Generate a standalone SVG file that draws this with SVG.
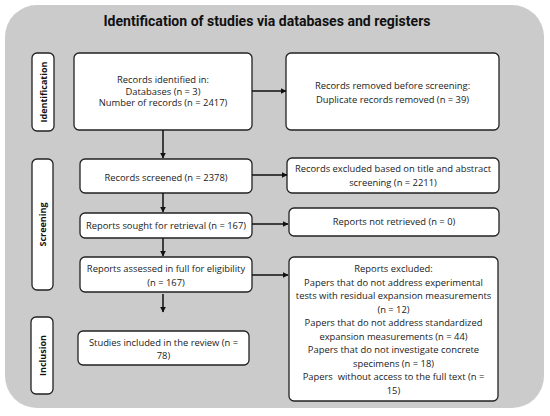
<svg xmlns="http://www.w3.org/2000/svg" width="550" height="416" viewBox="0 0 550 416">
<style>
.bg{fill:#cbcbcb}
.box{fill:#ffffff;stroke:#222222;stroke-width:1.3}
.t{font-family:"Open Sans","Liberation Sans",sans-serif;font-size:9.4px;fill:#222222;text-anchor:middle}
.lbl{font-family:"Open Sans","Liberation Sans",sans-serif;font-size:9px;font-weight:bold;fill:#111111;text-anchor:middle}
.title{font-family:"Roboto","Liberation Sans",sans-serif;font-size:15px;font-weight:bold;fill:#111111;text-anchor:middle}
.c{stroke:#111111;stroke-width:1.5;fill:none;marker-end:url(#ah)}
</style>
<defs>
<marker id="ah" viewBox="0 0 10 10" refX="9" refY="5" markerWidth="6" markerHeight="6" markerUnits="userSpaceOnUse" orient="auto">
<path d="M0,0 L10,5 L0,10 z" fill="#111111"/>
</marker>
</defs>
<rect width="550" height="416" fill="#ffffff"/>
<rect class="bg" x="5" y="5" width="539" height="403" rx="32"/>
<text class="title" x="267" y="26" textLength="327" lengthAdjust="spacingAndGlyphs">Identification of studies via databases and registers</text>

<g id="label-identification">
<rect class="box" x="32" y="53" width="22" height="78" rx="5"/>
<text class="lbl" transform="translate(46.5,92) rotate(-90)">Identification</text>
</g>
<g id="label-screening">
<rect class="box" x="32" y="159" width="21" height="131" rx="5"/>
<text class="lbl" transform="translate(45.5,224.5) rotate(-90)">Screening</text>
</g>
<g id="label-inclusion">
<rect class="box" x="31" y="317" width="22" height="77" rx="5"/>
<text class="lbl" transform="translate(45.5,355.5) rotate(-90)">Inclusion</text>
</g>

<g id="records-identified">
<rect class="box" x="74" y="53" width="178" height="77" rx="5"/>
<text class="t" x="163" y="83">Records identified in:</text>
<text class="t" x="163" y="94.5">Databases (n = 3)</text>
<text class="t" x="163" y="106">Number of records (n = 2417)</text>
</g>
<g id="records-removed">
<rect class="box" x="286" y="53" width="213" height="77" rx="5"/>
<text class="t" x="392.5" y="88.5">Records removed before screening:</text>
<text class="t" x="392.5" y="102.5">Duplicate records removed (n = 39)</text>
</g>
<g id="records-screened">
<rect class="box" x="80" y="159" width="172" height="34" rx="5"/>
<text class="t" x="166" y="180.5">Records screened (n = 2378)</text>
</g>
<g id="records-excluded">
<rect class="box" x="287" y="158" width="212" height="35" rx="5"/>
<text class="t" x="393" y="171.5">Records excluded based on title and abstract</text>
<text class="t" x="393" y="186">screening (n = 2211)</text>
</g>
<g id="reports-sought">
<rect class="box" x="80" y="213" width="172" height="25" rx="5"/>
<text class="t" x="166" y="229">Reports sought for retrieval (n = 167)</text>
</g>
<g id="reports-not-retrieved">
<rect class="box" x="289" y="208" width="210" height="28" rx="5"/>
<text class="t" x="394" y="224.5">Reports not retrieved (n = 0)</text>
</g>
<g id="reports-assessed">
<rect class="box" x="80" y="257" width="172" height="35" rx="5"/>
<text class="t" x="166" y="271.5">Reports assessed in full for eligibility</text>
<text class="t" x="166" y="285.5">(n = 167)</text>
</g>
<g id="reports-excluded">
<rect class="box" x="289" y="257" width="209" height="144" rx="5"/>
<text class="t" x="393.5" y="271.5">Reports excluded:</text>
<text class="t" x="393.5" y="285.5">Papers that do not address experimental</text>
<text class="t" x="393.5" y="299">tests with residual expansion measurements</text>
<text class="t" x="393.5" y="312.5">(n = 12)</text>
<text class="t" x="393.5" y="326">Papers that do not address standardized</text>
<text class="t" x="393.5" y="339.5">expansion measurements (n = 44)</text>
<text class="t" x="393.5" y="353">Papers that do not investigate concrete</text>
<text class="t" x="393.5" y="366.5">specimens (n = 18)</text>
<text class="t" x="393.5" y="380" xml:space="preserve">Papers  without access to the full text (n =</text>
<text class="t" x="393.5" y="393.5">15)</text>
</g>
<g id="studies-included">
<rect class="box" x="78" y="331" width="171" height="34" rx="5"/>
<text class="t" x="163.5" y="345.5">Studies included in the review (n =</text>
<text class="t" x="163.5" y="358.5">78)</text>
</g>

<g id="connectors">
<line class="c" x1="252" y1="91" x2="286" y2="91"/>
<line class="c" x1="163" y1="130" x2="163" y2="158"/>
<line class="c" x1="252" y1="175" x2="287" y2="175"/>
<line class="c" x1="163" y1="193" x2="163" y2="212"/>
<line class="c" x1="252" y1="224" x2="288" y2="224"/>
<line class="c" x1="163" y1="238" x2="163" y2="256"/>
<line class="c" x1="252" y1="275" x2="288" y2="275"/>
<line class="c" x1="163" y1="294" x2="163" y2="312"/>
</g>
</svg>
